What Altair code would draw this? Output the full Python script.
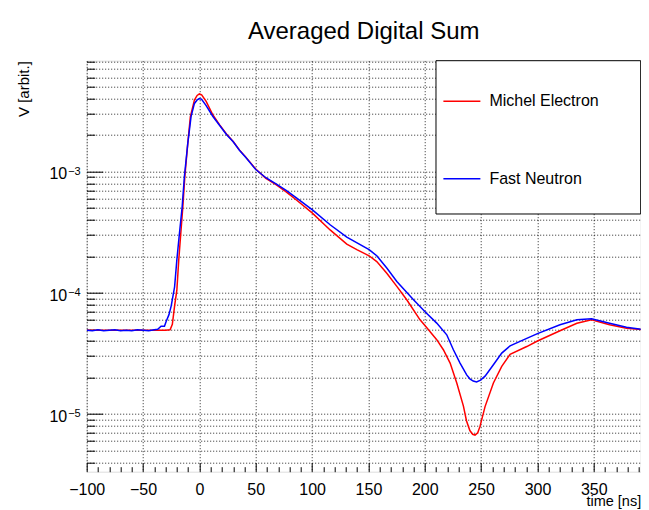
import altair as alt
import pandas as pd

# ---------------- data ----------------
red_t = [-100, -80, -60, -40, -30, -26, -24, -22, -20, -18.3, -16.5, -14.7, -12.9, -10.3, -8, -4.4, -2, 0, 2,
         6, 12, 18, 24, 30, 35.5, 41.4, 50, 59, 68, 77, 86.4, 100.3, 116, 130.8, 139.7, 150.6, 157.4, 166.3,
         175.2, 184, 195.8, 200.9, 210.6, 216.5, 222.5, 228.4, 234.3, 237, 240, 242.5, 244.6, 247, 249, 253.5,
         260.9, 268.3, 275.7, 290.5, 300, 320, 335, 348, 364, 379, 396]
red_v = [4.9e-5, 4.9e-5, 4.9e-5, 4.9e-5, 4.9e-5, 4.95e-5, 5.5e-5, 7.8e-5, 1.05e-4, 1.87e-4, 3.1e-4, 5.1e-4,
         9.1e-4, 1.71e-3, 2.84e-3, 3.9e-3, 4.25e-3, 4.37e-3, 4.3e-3,
         3.8e-3, 2.93e-3, 2.43e-3, 2.04e-3, 1.77e-3, 1.51e-3, 1.31e-3, 1.05e-3, 8.8e-4, 7.8e-4, 6.8e-4,
         5.8e-4, 4.54e-4, 3.3e-4, 2.52e-4, 2.27e-4, 2.02e-4, 1.81e-4, 1.45e-4,
         1.13e-4, 8.75e-5, 5.98e-5, 5.27e-5, 4.1e-5, 3.39e-5, 2.63e-5, 1.8e-5, 1.16e-5, 8.8e-6, 7.3e-6,
         6.8e-6, 6.7e-6, 7.0e-6, 7.9e-6, 1.15e-5,
         1.8e-5, 2.47e-5, 3.1e-5, 3.6e-5, 4.0e-5, 4.86e-5, 5.6e-5, 6.0e-5, 5.45e-5, 5.1e-5, 4.95e-5]

blue_t = [-100, -95, -90, -85, -80, -75, -70, -65, -60, -55, -50, -45, -40, -37, -34, -31, -29.5, -27, -25,
          -22, -20, -17.7, -15.3, -13.3, -10.3, -7.4, -4.4, -2, 0, 2,
          6, 12, 18, 24, 30, 35.5, 41.4, 50, 59, 68, 77, 86.4, 100.3, 116, 130.8, 150.6, 157.4, 166.3,
          175.2, 190, 200.9, 210.6, 219.5, 225.4, 231.3, 237.2, 240, 243, 246, 249.5, 253.5, 260.9, 268.3,
          275.7, 290.5, 300, 320, 335, 348, 364, 379, 396]
blue_v = [4.9e-5, 4.85e-5, 4.95e-5, 4.85e-5, 4.9e-5, 4.95e-5, 4.85e-5, 4.9e-5, 4.85e-5, 4.95e-5, 4.9e-5,
          4.85e-5, 4.95e-5, 5.0e-5, 5.3e-5, 5.3e-5, 5.8e-5, 6.6e-5, 7.8e-5,
          1.12e-4, 1.87e-4, 3.1e-4, 5.1e-4, 9.1e-4, 1.71e-3, 2.84e-3, 3.65e-3, 3.9e-3, 4.0e-3, 3.95e-3,
          3.5e-3, 2.85e-3, 2.4e-3, 2.02e-3, 1.76e-3, 1.5e-3, 1.3e-3, 1.04e-3, 8.9e-4, 7.9e-4, 7.0e-4,
          6.04e-4, 4.83e-4, 3.64e-4, 2.88e-4, 2.27e-4, 2.02e-4, 1.6e-4,
          1.24e-4, 8.75e-5, 6.88e-5, 5.62e-5, 4.5e-5, 3.39e-5, 2.63e-5, 2.1e-5, 1.95e-5, 1.87e-5, 1.84e-5,
          1.9e-5, 2.05e-5, 2.55e-5, 3.18e-5,
          3.65e-5, 4.2e-5, 4.6e-5, 5.45e-5, 6.0e-5, 6.1e-5, 5.6e-5, 5.2e-5, 4.95e-5]

series_names = ["Michel Electron", "Fast Neutron"]
series_colors = ["#ff0000", "#0000ff"]

x_major = [-100, -50, 0, 50, 100, 150, 200, 250, 300, 350]
x_minor = [v for v in range(-90, 392, 10) if v % 50 != 0]
y_major = [1e-5, 1e-4, 1e-3]
y_major_exp = ["\u22125", "\u22124", "\u22123"]
y_minor = [4e-6, 5e-6, 6e-6, 7e-6, 8e-6, 9e-6,
           2e-5, 3e-5, 4e-5, 5e-5, 6e-5, 7e-5, 8e-5, 9e-5,
           2e-4, 3e-4, 4e-4, 5e-4, 6e-4, 7e-4, 8e-4, 9e-4,
           2e-3, 3e-3, 4e-3, 5e-3, 6e-3, 7e-3, 8e-3]
y_all = sorted(y_major + y_minor)

df = pd.concat([
    pd.DataFrame({"t": red_t, "v": red_v, "series": series_names[0]}),
    pd.DataFrame({"t": blue_t, "v": blue_v, "series": series_names[1]}),
])

W, H = 554, 411
FONT = "Liberation Sans"
xs = alt.Scale(domain=[-100, 391.6], nice=False, zero=False)
ys = alt.Scale(type="log", domain=[3.34e-6, 8.22e-3], nice=False)

sup_expr = " : ".join(
    f"datum.value == {v!r} ? '{e}'" for v, e in zip(y_major, y_major_exp)) + " : ''"

base = alt.Chart(df)

lines = base.mark_line(strokeWidth=1.5, clip=True).encode(
    x=alt.X("t:Q", scale=xs, axis=alt.Axis(
        values=x_major, orient="bottom", grid=True, gridDash=[1, 2], gridColor="#000000", gridOpacity=0.85,
        ticks=False, tickSize=0, domain=False, labelFontSize=16, labelPadding=10, labelFont=FONT,
        labelColor="#000000", labelOverlap=False, labelFlush=False,
        title="time [ns]", titleFont=FONT, titleFontSize=14.5, titleFontWeight="normal", titleColor="#000000",
        titleAnchor="end", titleAlign="right", titleX=W, titleY=33.5, titleBaseline="alphabetic")),
    y=alt.Y("v:Q", scale=ys, axis=alt.Axis(
        values=y_all, orient="left", grid=True, gridDash=[1, 2], gridColor="#000000", gridOpacity=0.85,
        ticks=False, tickSize=0, domain=False,
        labelExpr="indexof([0.001, 0.0001, 0.00001], datum.value) >= 0 ? '10' : ''",
        labelFontSize=16, labelPadding=20, labelBaseline="alphabetic", labelOffset=7.4,
        labelFont=FONT, labelColor="#000000", labelOverlap=False, labelFlush=False,
        title="V [arbit.]", titleFont=FONT, titleFontSize=15, titleFontWeight="normal", titleColor="#000000",
        titleAnchor="end", titleAlign="right", titleAngle=270, titleX=-58, titleY=0,
        titleBaseline="alphabetic")),
    color=alt.Color("series:N", scale=alt.Scale(domain=series_names, range=series_colors),
                    legend=alt.Legend(title=None, orient="none", legendX=355.7, legendY=21,
                                      symbolType="stroke", symbolSize=1369, symbolStrokeWidth=1.5,
                                      labelFontSize=16, labelFont=FONT, labelColor="#000000",
                                      labelOffset=8, rowPadding=49.5, padding=0, symbolOffset=0)),
)

sup_layer = base.mark_line(opacity=0).encode(
    y=alt.Y("v:Q", scale=ys, axis=alt.Axis(
        values=y_major, orient="left", ticks=False, tickSize=0, domain=False, grid=False, title=None,
        labelExpr=sup_expr, labelFontSize=11, labelPadding=6.5, labelBaseline="alphabetic",
        labelOffset=2.5, labelFont=FONT, labelColor="#000000", labelOverlap=False, labelFlush=False)),
    x=alt.X("t:Q", scale=xs, axis=None),
    detail="series:N",
)

tick_major = base.mark_line(opacity=0).encode(
    x=alt.X("t:Q", scale=xs, axis=alt.Axis(values=x_major, orient="bottom", offset=-9, tickSize=9,
                                          tickColor="#000000", domain=False, labels=False, grid=False,
                                          title=None)),
    y=alt.Y("v:Q", scale=ys, axis=alt.Axis(values=y_major, orient="left", offset=-16, tickSize=16,
                                          tickColor="#000000", domain=False, labels=False, grid=False,
                                          title=None)),
    detail="series:N",
)

tick_minor = base.mark_line(opacity=0).encode(
    x=alt.X("t:Q", scale=xs, axis=alt.Axis(values=x_minor, orient="bottom", offset=-5, tickSize=5,
                                          tickColor="#000000", domain=False, labels=False, grid=False,
                                          title=None)),
    y=alt.Y("v:Q", scale=ys, axis=alt.Axis(values=y_minor, orient="left", offset=-8, tickSize=8,
                                          tickColor="#000000", domain=False, labels=False, grid=False,
                                          title=None)),
    detail="series:N",
)

legend_box = alt.Chart(pd.DataFrame({"k": [0]})).mark_rect(
    fill="white", stroke="black", strokeWidth=1).encode(
    x=alt.value(349.3), x2=alt.value(W), y=alt.value(0), y2=alt.value(153.3))

chart = alt.layer(lines, sup_layer, tick_major, tick_minor, legend_box).resolve_axis(
    x="independent", y="independent"
).properties(
    width=W, height=H,
    padding={"left": 78.7, "top": 52.7, "right": 0, "bottom": 37},
    autosize="none",
    title=alt.TitleParams("Averaged Digital Sum", font=FONT, fontSize=24, fontWeight="normal",
                          color="#000000", anchor="middle", frame="group", offset=-6,
                          baseline="alphabetic"),
).configure_view(stroke="#000000", strokeWidth=1).configure(background="white")

chart.save("out.html", embed_options={"renderer": "svg", "actions": False})
